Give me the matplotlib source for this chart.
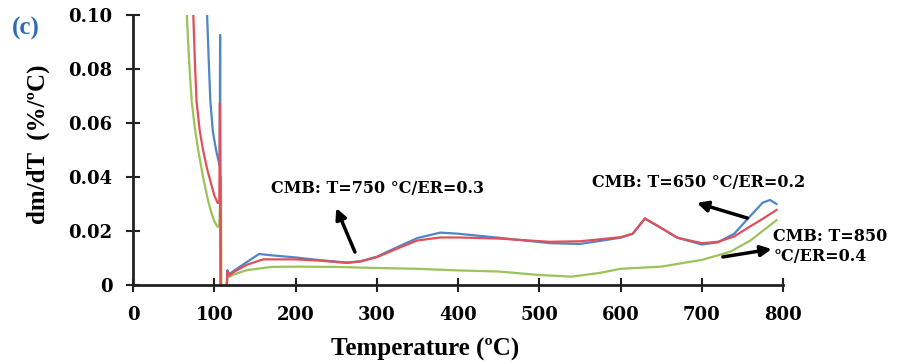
import matplotlib
matplotlib.use("Agg")
import matplotlib.pyplot as plt

# temperatures (degC) and dm/dT (%/degC)
blue_T = [91, 93, 95, 98, 102, 105, 106.5, 107, 107.6, 112, 115, 116, 118, 125, 140, 155, 170, 200, 230,
          263, 280, 300, 325, 350, 378, 400, 450, 513, 550, 600, 615, 630, 645, 670, 700, 720,
          740, 759, 775, 784, 792]
blue_v = [0.10, 0.083, 0.068, 0.057, 0.050, 0.046, 0.0444, 0.0926, -0.002, -0.002, -0.002, 0.0055, 0.004, 0.0055, 0.0085, 0.0115, 0.011, 0.0102, 0.0092,
          0.0083, 0.0088, 0.0105, 0.014, 0.0174, 0.0194, 0.019, 0.0175, 0.0155, 0.0152, 0.0175, 0.019, 0.0245, 0.022, 0.0175, 0.015, 0.0158,
          0.019, 0.0253, 0.0305, 0.0315, 0.030]

red_T = [74, 76, 78, 82, 86, 91, 96, 100, 104, 106, 106.8, 107.6, 112, 115, 116, 118, 125, 140, 160, 200, 230,
         263, 280, 300, 325, 350, 378, 400, 450, 513, 550, 600, 615, 630, 645, 670, 700, 720,
         740, 759, 775, 792]
red_v = [0.10, 0.082, 0.068, 0.057, 0.050, 0.043, 0.0374, 0.033, 0.0304, 0.0305, 0.0674, -0.002, -0.002, -0.002, 0.005, 0.0035, 0.005, 0.0075, 0.0095, 0.0095, 0.009,
         0.0082, 0.0087, 0.0103, 0.0135, 0.0165, 0.0176, 0.0176, 0.0172, 0.016, 0.0162, 0.0177, 0.019, 0.0247, 0.022, 0.0175, 0.0155, 0.016,
         0.018, 0.0216, 0.0245, 0.0278]

green_T = [66, 69, 72, 76, 80, 86, 92, 96, 100, 104, 106, 108, 108.6, 112, 115, 116, 118, 125, 140, 170, 200, 250,
           300, 350, 400, 450, 500, 540, 575, 600, 650, 700, 735, 760, 792]
green_v = [0.10, 0.082, 0.068, 0.058, 0.050, 0.040, 0.0315, 0.027, 0.0235, 0.0215, 0.022, 0.040, -0.002, -0.002, -0.002, 0.005, 0.003, 0.004, 0.0055, 0.0067, 0.0068, 0.0067,
           0.0063, 0.006, 0.0054, 0.005, 0.0037, 0.0031, 0.0045, 0.006, 0.0068, 0.0093, 0.0123, 0.0165, 0.024]

x_ticks = [0, 100, 200, 300, 400, 500, 600, 700, 800]
y_ticks = [0, 0.02, 0.04, 0.06, 0.08, 0.10]
y_tick_labels = ["0", "0.02", "0.04", "0.06", "0.08", "0.10"]

serif_b = dict(family="DejaVu Serif", weight="bold")
times_b = dict(family="Liberation Serif", weight="bold")

fig = plt.figure(figsize=(9, 3.62), dpi=100)
ax = fig.add_axes([0.148, 0.2127, 0.722, 0.7459])

ax.plot(green_T, green_v, color="#9bc35a", lw=1.6)
ax.plot(blue_T, blue_v, color="#4f86c6", lw=1.6)
ax.plot(red_T, red_v, color="#e0505a", lw=1.6)

ax.set_xlim(0, 800)
ax.set_ylim(0, 0.10)
ax.set_xticks(x_ticks)
ax.set_xticklabels([str(t) for t in x_ticks], fontsize=13, **serif_b)
ax.set_yticks(y_ticks)
ax.set_yticklabels(y_tick_labels, fontsize=13, **serif_b)
ax.tick_params(direction="inout", length=10, width=1.5, color="#222222")
ax.tick_params(axis="x", pad=10)
ax.tick_params(axis="y", pad=10)

for side in ["top", "right"]:
    ax.spines[side].set_visible(False)
for side in ["left", "bottom"]:
    ax.spines[side].set_linewidth(2)
    ax.spines[side].set_color("#222222")
    ax.spines[side].set_zorder(5)

ax.set_xlabel("Temperature (ºC)", fontsize=18, **times_b)
ax.xaxis.set_label_coords(0.449, -0.195)
ax.set_ylabel("dm/dT  (%/ºC)", fontsize=18, **times_b)
ax.yaxis.set_label_coords(-0.128, 0.52)

arrow = dict(arrowstyle="-|>", lw=2.5, color="black", mutation_scale=16, shrinkA=0, shrinkB=0)
ax.text(301, 0.0359, "CMB: T=750 °C/ER=0.3", ha="center", va="center", fontsize=11.5, **serif_b)
ax.annotate("", xy=(250, 0.0285), xytext=(273, 0.0122), arrowprops=arrow)
ax.text(696, 0.0378, "CMB: T=650 °C/ER=0.2", ha="center", va="center", fontsize=11.5, **serif_b)
ax.annotate("", xy=(694, 0.0304), xytext=(756, 0.0248), arrowprops=arrow)
ax.text(788, 0.0143, "CMB: T=850\n°C/ER=0.4", ha="left", va="center", fontsize=11.5,
        linespacing=1.25, clip_on=False, **serif_b)
ax.annotate("", xy=(786, 0.0133), xytext=(726, 0.0104), arrowprops=arrow, annotation_clip=False)

fig.text(0.029, 0.922, "(c)", color="#2e6db4", fontsize=18, ha="center", va="center", **times_b)

fig.savefig("out.png", dpi=100)
